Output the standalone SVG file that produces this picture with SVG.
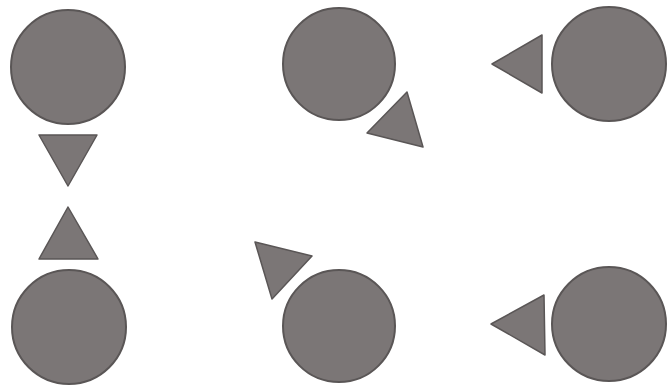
<svg xmlns="http://www.w3.org/2000/svg" width="669" height="387" viewBox="0 0 669 387">
<style>
.n{fill:#7b7676;stroke:#5a5656;stroke-width:2}
.t{fill:#7b7676;stroke:#5a5656;stroke-width:1.5;stroke-linejoin:round}
</style>
<rect width="669" height="387" fill="#fff"/>
<g id="node1"><circle class="n" cx="68" cy="67" r="57"/></g>
<g id="node2"><circle class="n" cx="339" cy="64" r="56"/></g>
<g id="node3"><circle class="n" cx="609" cy="64" r="57"/></g>
<g id="node4"><circle class="n" cx="69" cy="327" r="57"/></g>
<g id="node5"><circle class="n" cx="339" cy="326" r="56"/></g>
<g id="node6"><circle class="n" cx="609" cy="324" r="57"/></g>
<g id="connectors">
<polygon class="t" points="39,135 97,135 68,186"/>
<polygon class="t" points="407,92 367,133 423,147"/>
<polygon class="t" points="542,35 542,93 492,64"/>
<polygon class="t" points="68,207 39,259 98,259"/>
<polygon class="t" points="255,242 312,256 272,299"/>
<polygon class="t" points="544,295 545,355 491,324"/>
</g>
</svg>
